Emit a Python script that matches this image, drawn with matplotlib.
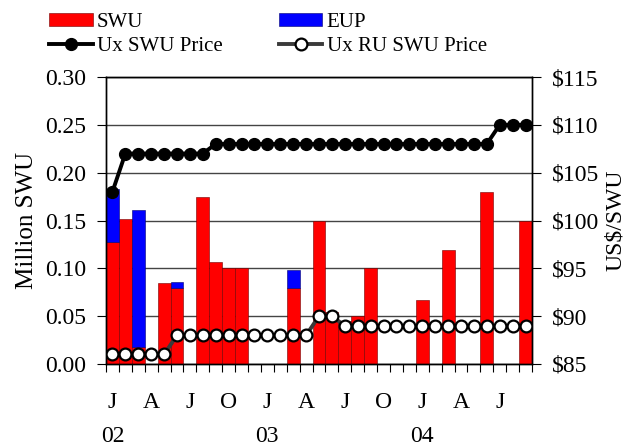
import numpy as np
import matplotlib.pyplot as plt
from matplotlib.ticker import FixedLocator, StrMethodFormatter

plt.rcParams['font.family'] = ['Liberation Serif', 'DejaVu Serif']

# monthly data, Jan 2002 .. Sep 2004
months = np.arange(33)
swu = [0.128, 0.152, 0.018, 0, 0.085, 0.079, 0, 0.175, 0.107, 0.100, 0.100,
       0, 0, 0, 0.079, 0, 0.150, 0.054, 0.045, 0.050, 0.100, 0, 0, 0,
       0.067, 0, 0.119, 0, 0, 0.180, 0, 0, 0.150]
eup = [0.055, 0, 0.143, 0, 0, 0.007, 0, 0, 0, 0, 0,
       0, 0, 0, 0.019, 0, 0, 0, 0, 0, 0, 0, 0, 0,
       0, 0, 0, 0, 0, 0, 0, 0, 0]
ux_price = [103] + [107] * 7 + [108] * 22 + [110] * 3
ru_price = [86] * 5 + [88] * 11 + [90, 90] + [89] * 15

month_ticks = [0, 3, 6, 9, 12, 15, 18, 21, 24, 27, 30]
month_labels = ['J', 'A', 'J', 'O', 'J', 'A', 'J', 'O', 'J', 'A', 'J']
year_pos = [0, 12, 24]
year_labels = ['02', '03', '04']

swu = np.array(swu)
eup = np.array(eup)
has_swu = swu > 0
has_eup = eup > 0

fig = plt.figure(figsize=(6.26, 4.47), dpi=100)
ax = fig.add_axes([0.1693, 0.1857, 0.6805, 0.642])

# only draw months that actually have volume (no stray zero-height edges)
ax.bar(months[has_swu], swu[has_swu], width=1.0, color='#ff0000',
       edgecolor='#700000', linewidth=0.4, label='SWU', zorder=2)
ax.bar(months[has_eup], eup[has_eup], width=1.0, bottom=swu[has_eup],
       color='#0000ff', edgecolor='#000070', linewidth=0.4, label='EUP',
       zorder=2)

ax.set_xlim(-0.5, 32.5)
ax.set_ylim(0, 0.30)
ax.set_yticks(np.arange(0, 0.301, 0.05))
ax.yaxis.set_major_formatter(StrMethodFormatter('{x:.2f}'))
ax.grid(axis='y', color='#444444', linewidth=1.0)
ax.set_axisbelow(True)

ax.set_xticks(month_ticks)
ax.set_xticklabels(month_labels)
ax.xaxis.set_minor_locator(FixedLocator(np.arange(-0.5, 33, 1)))
ax.tick_params(axis='x', which='major', length=0, pad=20, labelsize=17)
ax.tick_params(axis='x', which='minor', length=6, width=0.8, direction='out')
ax.tick_params(axis='y', length=6.5, width=0.8, pad=8, labelsize=17)
for p, lab in zip(year_pos, year_labels):
    ax.text(p, -0.252, lab, transform=ax.get_xaxis_transform(),
            ha='center', va='center', fontsize=17)
ax.set_ylabel('Million SWU', fontsize=18, labelpad=5)

ax2 = ax.twinx()
ax2.plot(months, ux_price, color='black', linewidth=2.8, marker='o',
         markersize=8.5, markerfacecolor='black', markeredgecolor='black',
         label='Ux SWU Price', zorder=3)
ax2.plot(months, ru_price, color='#3a3a3a', linewidth=2.8, marker='o',
         markersize=8.5, markerfacecolor='white', markeredgecolor='black',
         markeredgewidth=1.6, label='Ux RU SWU Price', zorder=3)
ax2.set_ylim(85, 115)
ax2.set_yticks(np.arange(85, 116, 5))
ax2.yaxis.set_major_formatter(StrMethodFormatter('${x:.0f}'))
ax2.tick_params(axis='y', length=6.5, width=0.8, pad=8, labelsize=17)
ax2.set_ylabel('US$/SWU', fontsize=17, labelpad=4)

for a in (ax, ax2):
    for s in a.spines.values():
        s.set_linewidth(1.0)

h1, l1 = ax.get_legend_handles_labels()
h2, l2 = ax2.get_legend_handles_labels()
handles = [h1[0], h2[0], h1[1], h2[1]]
labels = [l1[0], l2[0], l1[1], l2[1]]
fig.legend(handles, labels, ncol=2, loc='upper left',
           bbox_to_anchor=(0.078, 0.972), frameon=False, fontsize=15,
           handlelength=2.1, handleheight=0.65, handletextpad=0.2,
           columnspacing=2.7, labelspacing=0.25, borderpad=0,
           borderaxespad=0)

fig.savefig('out.png', dpi=100)
